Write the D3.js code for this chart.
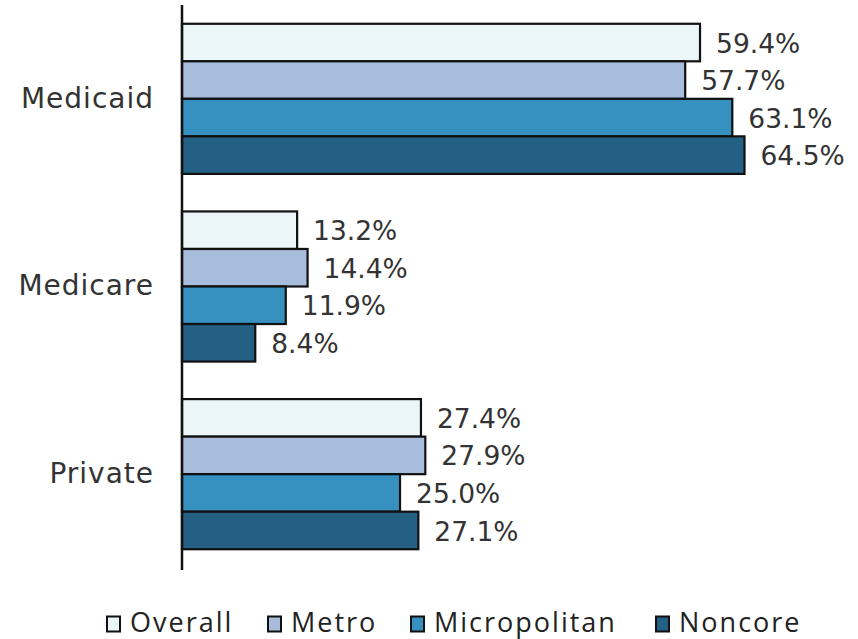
<!DOCTYPE html>
<html>
<head>
<meta charset="utf-8">
<script src="https://cdn.jsdelivr.net/npm/d3@7"></script>
<style>
  body { margin: 0; background: #fff; }
  svg { display: block; }
</style>
</head>
<body>
<div id="chart"></div>
<script>
'use strict';

// data
const categories = ['Medicaid', 'Medicare', 'Private'];
const seriesNames = ['Overall', 'Metro', 'Micropolitan', 'Noncore'];
const overall = [59.4, 13.2, 27.4];
const metro = [57.7, 14.4, 27.9];
const micropolitan = [63.1, 11.9, 25.0];
const noncore = [64.5, 8.4, 27.1];
const colors = ['#eaf6f8', '#a8bddb', '#3690c0', '#236083'];

const settings = { width: 858, height: 639 };
const values = [overall, metro, micropolitan, noncore];

const svg = d3.select('#chart')
    .append('svg')
    .attr('width', settings.width)
    .attr('height', settings.height);

const x = d3.scaleLinear()
    .domain([0, 64.5])
    .range([182, 744.5]);

const y0 = d3.scaleBand()
    .domain(categories)
    .range([5, 568])
    .paddingInner(0.2)
    .paddingOuter(0.1);

const y1 = d3.scaleBand()
    .domain(seriesNames)
    .range([0, y0.bandwidth()]);

const rows = [];
categories.forEach((c, ci) => {
    seriesNames.forEach((s, si) => {
        rows.push({ cat: c, series: s, value: values[si][ci], color: colors[si] });
    });
});

// bars
svg.append('g')
    .selectAll('rect')
    .data(rows)
    .join('rect')
    .attr('x', x(0))
    .attr('y', d => y0(d.cat) + y1(d.series))
    .attr('width', d => x(d.value) - x(0))
    .attr('height', y1.bandwidth())
    .attr('fill', d => d.color)
    .attr('stroke', '#111')
    .attr('stroke-width', 2.2);

// value labels
svg.append('g')
    .selectAll('text')
    .data(rows)
    .join('text')
    .attr('x', d => x(d.value) + 16)
    .attr('y', d => y0(d.cat) + y1(d.series) + y1.bandwidth() / 2)
    .attr('dy', '0.38em')
    .attr('font-family', 'DejaVu Sans, sans-serif')
    .attr('font-size', 26.5)
    .attr('fill', '#333')
    .text(d => d.value.toFixed(1) + '%');

// y axis
const yAxis = svg.append('g')
    .attr('transform', `translate(${x(0)},0)`)
    .call(d3.axisLeft(y0).tickSize(0).tickPadding(28));
yAxis.select('.domain')
    .attr('d', 'M0,5V570')
    .attr('stroke', '#111')
    .attr('stroke-width', 2.5);
yAxis.selectAll('text')
    .attr('font-family', 'DejaVu Sans, sans-serif')
    .attr('font-size', 28)
    .attr('letter-spacing', 1)
    .attr('fill', '#333');

// legend
const legendX = [107, 268, 411, 656];
const legend = svg.append('g')
    .selectAll('g')
    .data(seriesNames)
    .join('g')
    .attr('transform', (d, i) => `translate(${legendX[i]},624)`);
legend.append('rect')
    .attr('x', 0)
    .attr('y', -7.5)
    .attr('width', 13)
    .attr('height', 15)
    .attr('fill', (d, i) => colors[i])
    .attr('stroke', '#111')
    .attr('stroke-width', 2);
legend.append('text')
    .attr('x', 23)
    .attr('y', 8)
    .attr('font-family', 'Open Sans, sans-serif')
    .attr('font-size', 27)
    .attr('letter-spacing', 2)
    .attr('fill', '#222')
    .text(d => d);
</script>
</body>
</html>
